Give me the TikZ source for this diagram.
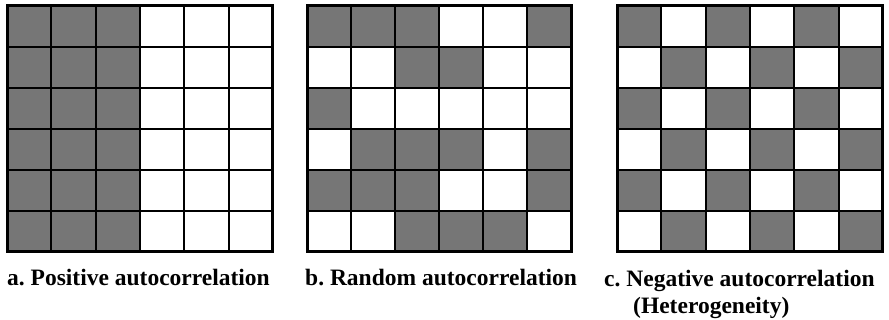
\documentclass[tikz,border=0pt]{standalone}
\usepackage{fontspec}
\setmainfont{Liberation Serif}
\frenchspacing
\definecolor{cellgray}{HTML}{767676}
\tikzset{
  cell/.style={draw=black, line width=1.8pt},
  frame/.style={draw=black, line width=3pt},
  caption/.style={font=\fontsize{23.5}{28}\selectfont\bfseries, anchor=base west, inner sep=0pt}
}
\newcommand\drawmygrid[5]{% x0, y0, cellw, cellh, pattern
  \foreach \row [count=\r from 0] in {#5} {
    \foreach \v [count=\c from 0] in \row {
      \ifnum\v=1
        \fill[cellgray] ({#1+\c*#3},{#2+\r*#4}) rectangle ++(#3,#4);
      \fi
    }
  }
  \foreach \k in {1,...,5} {
    \draw[cell] ({#1+\k*#3},#2) -- ++(0,{6*#4});
    \draw[cell] (#1,{#2+\k*#4}) -- ++({6*#3},0);
  }
  \draw[frame] (#1,#2) rectangle ++({6*#3},{6*#4});
}
\begin{document}
\begin{tikzpicture}[x=1pt,y=-1pt]
\useasboundingbox (0,0) rectangle (889,320);
\drawmygrid{7}{6}{44.33}{41}{{1,1,1,0,0,0},{1,1,1,0,0,0},{1,1,1,0,0,0},{1,1,1,0,0,0},{1,1,1,0,0,0},{1,1,1,0,0,0}}
\drawmygrid{307}{6}{44}{41}{{1,1,1,0,0,1},{0,0,1,1,0,0},{1,0,0,0,0,0},{0,1,1,1,0,1},{1,1,1,0,0,1},{0,0,1,1,1,0}}
\drawmygrid{617}{6}{44.33}{41}{{1,0,1,0,1,0},{0,1,0,1,0,1},{1,0,1,0,1,0},{0,1,0,1,0,1},{1,0,1,0,1,0},{0,1,0,1,0,1}}
\node[caption] (la) at (7,286) {a. Positive autocorrelation};
\node[caption] (lb) at (305,286) {b. Random autocorrelation};
\node[caption] (lc) at (604,287) {c. Negative autocorrelation};
\node[caption] (ld) at (633,314) {(Heterogeneity)};
\end{tikzpicture}
\end{document}
